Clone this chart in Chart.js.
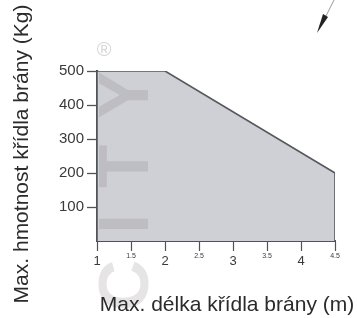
<!DOCTYPE html>
<html>
<head>
<meta charset="utf-8">
<script src="https://cdn.jsdelivr.net/npm/chart.js@4.4.1/dist/chart.umd.min.js"></script>
<style>
    html, body { margin: 0; padding: 0; background: #fff; }
    #wrap { width: 357px; height: 318px; position: relative; }
</style>
</head>
<body>
<div id="wrap"><canvas id="gateChart"></canvas></div>
<script>
// Outline of the permitted area: gate leaf length (m) vs max leaf weight (kg)
const lengthM = [1, 1, 2, 4.5, 4.5];
const maxKg = [0, 500, 500, 200, 0];

const xTicks = [1, 1.5, 2, 2.5, 3, 3.5, 4, 4.5];
const yTicks = [100, 200, 300, 400, 500];

const xTitle = 'Max. délka křídla brány (m)';
const yTitle = 'Max. hmotnost křídla brány (Kg)';
const watermark = 'CITY';

const FONT = '"Liberation Sans", Arial, Helvetica, sans-serif';

const colors = {
    fill: '#cfd0d5',
    line: '#55585c',
    axis: '#505357',
    tickText: '#3a3a3a',
    title: '#2b2b2b',
    mark: 'rgba(105, 95, 100, 0.17)'
};

// Titles, watermark and the pointer arrow are drawn by hand
const decorations = {
    id: 'decorations',
    afterDatasetsDraw(chart) {
        const { ctx, chartArea } = chart;
        ctx.save();
        ctx.fillStyle = colors.mark;
        ctx.font = 'bold 71px ' + FONT;
        ctx.letterSpacing = '26px';
        ctx.translate(chartArea.left + 51, chartArea.bottom + 70);
        ctx.rotate(-Math.PI / 2);
        ctx.textAlign = 'left';
        ctx.textBaseline = 'alphabetic';
        ctx.fillText(watermark, 0, 0);
        ctx.restore();

        ctx.save();
        ctx.fillStyle = '#d6d6d6';
        ctx.font = '20px ' + FONT;
        ctx.textAlign = 'center';
        ctx.textBaseline = 'middle';
        ctx.fillText('®', chartArea.left + 7, chartArea.top - 21);
        ctx.restore();
    },
    afterDraw(chart) {
        const { ctx, chartArea } = chart;
        ctx.save();
        ctx.fillStyle = colors.title;
        ctx.font = '21px ' + FONT;
        ctx.textAlign = 'center';
        ctx.textBaseline = 'alphabetic';
        ctx.fillText(xTitle, (chartArea.left + chart.width) / 2, chart.height - 7);

        ctx.translate(28, (chartArea.top + chartArea.bottom) / 2 - 2);
        ctx.rotate(-Math.PI / 2);
        ctx.fillText(yTitle, 0, 0);
        ctx.restore();

        // pointer arrow, top right
        const tipX = chart.width - 40, tipY = 33;
        ctx.save();
        ctx.strokeStyle = '#9a9a9a';
        ctx.lineWidth = 1;
        ctx.beginPath();
        ctx.moveTo(tipX + 17, 0);
        ctx.lineTo(tipX + 8, tipY - 15);
        ctx.stroke();
        ctx.fillStyle = '#222';
        ctx.beginPath();
        ctx.moveTo(tipX, tipY);
        ctx.lineTo(tipX + 6, tipY - 19);
        ctx.lineTo(tipX + 11, tipY - 16);
        ctx.closePath();
        ctx.fill();
        ctx.restore();
    }
};

const isMajor = ctx => !ctx.tick || Number.isInteger(ctx.tick.value);

new Chart(document.getElementById('gateChart'), {
    type: 'line',
    data: {
        datasets: [{
            data: lengthM.map((x, i) => ({ x: x, y: maxKg[i] })),
            borderColor: colors.line,
            backgroundColor: colors.fill,
            borderWidth: 1.6,
            fill: 'origin',
            tension: 0,
            pointRadius: 0
        }]
    },
    options: {
        responsive: true,
        maintainAspectRatio: false,
        animation: false,
        layout: {
            padding: { top: 71, right: 22, left: 0, bottom: 0 }
        },
        plugins: {
            legend: { display: false },
            tooltip: { enabled: false }
        },
        scales: {
            x: {
                type: 'linear',
                min: 1,
                max: 4.5,
                afterBuildTicks: scale => { scale.ticks = xTicks.map(v => ({ value: v })); },
                afterFit: scale => { scale.height = 77; },
                border: { color: colors.axis, width: 2 },
                grid: {
                    drawOnChartArea: false,
                    tickLength: 10,
                    tickColor: colors.axis,
                    tickWidth: 1.2
                },
                ticks: {
                    padding: 1,
                    maxRotation: 0,
                    autoSkip: false,
                    color: colors.tickText,
                    callback: value => String(value),
                    font: ctx => isMajor(ctx)
                        ? { family: FONT, size: 13, lineHeight: 1.46 }
                        : { family: FONT, size: 7, lineHeight: 1.15 }
                }
            },
            y: {
                min: 0,
                max: 500,
                afterBuildTicks: scale => { scale.ticks = yTicks.map(v => ({ value: v })); },
                afterFit: scale => { scale.width = 97; },
                border: { color: colors.axis, width: 2.2 },
                grid: {
                    drawOnChartArea: false,
                    tickLength: 10,
                    tickColor: colors.axis,
                    tickWidth: 1.3
                },
                ticks: {
                    padding: 3,
                    color: colors.tickText,
                    font: { family: FONT, size: 15 }
                }
            }
        }
    },
    plugins: [decorations]
});
</script>
</body>
</html>
